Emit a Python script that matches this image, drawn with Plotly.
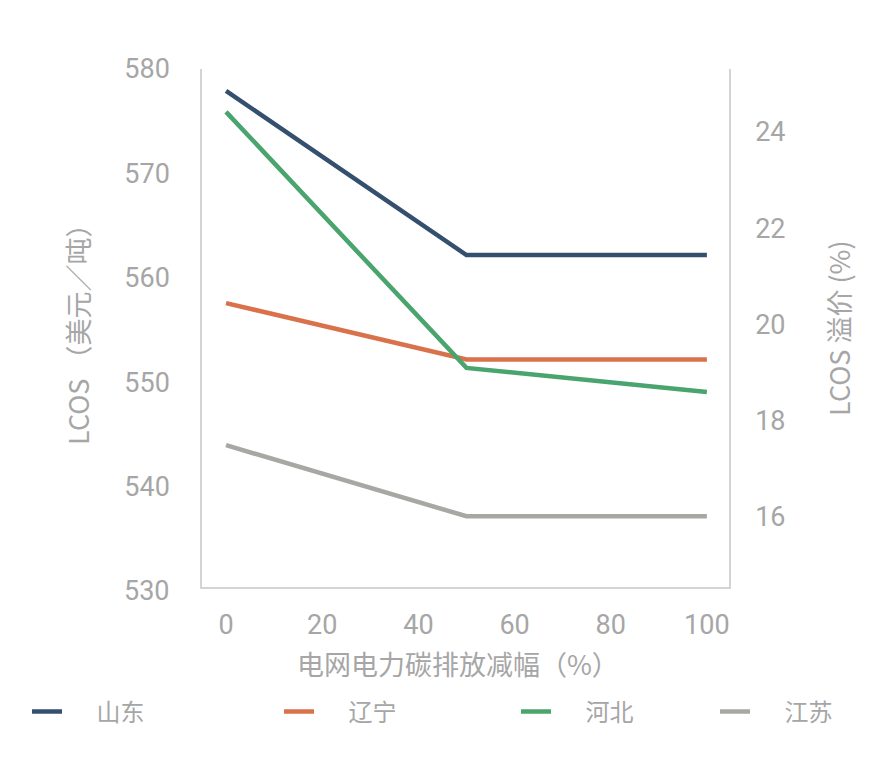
import plotly.graph_objects as go

x_vals = [0, 50, 100]
series_names = ["山东", "辽宁", "河北", "江苏"]
shandong = [577.9, 562.2, 562.2]
liaoning = [557.6, 552.2, 552.2]
hebei = [575.9, 551.4, 549.1]
jiangsu = [544.0, 537.2, 537.2]
colors = ["#34506e", "#d9714a", "#4aa46e", "#a7a7a3"]
x_ticks = [0, 20, 40, 60, 80, 100]
y_ticks = [530, 540, 550, 560, 570, 580]
y2_ticks = [16, 18, 20, 22, 24]

GRAY = "#a6a6a6"
CJK = "Noto Sans CJK SC"
NUM = "Roboto"
OFF = 8  # page body margin

y_max = 580
y_min = y_max - 518 / 10.45  # axis bottom sits a little above the 530 label

fig = go.Figure()
legend_ids = ["legend", "legend2", "legend3", "legend4"]
for name, vals, col, lg in zip(series_names, [shandong, liaoning, hebei, jiangsu], colors, legend_ids):
    fig.add_trace(go.Scatter(x=x_vals, y=vals, mode="lines", name="\u3000 " + name,
                             line=dict(color=col, width=4.5), legend=lg))

fig.add_trace(go.Scatter(x=[None], y=[None], yaxis="y2", showlegend=False,
                         hoverinfo="skip", mode="lines"))

leg_x = [27, 279, 516, 715]
leg_common = dict(orientation="h", xref="container", yref="container",
                  yanchor="middle", y=1 - (712 - OFF) / 768, xanchor="left",
                  font=dict(family=CJK, size=24, color=GRAY), bgcolor="rgba(0,0,0,0)")
legs = {}
for lg, lx in zip(legend_ids, leg_x):
    legs[lg] = dict(x=(lx - OFF) / 896, **leg_common)

tickfont = dict(family=NUM, size=27, color=GRAY)

fig.update_layout(
    width=896, height=768,
    margin=dict(l=202 - OFF, r=167 + OFF, t=69 - OFF, b=181 + OFF),
    paper_bgcolor="white", plot_bgcolor="white",
    xaxis=dict(range=[-5, 104.6], tickvals=x_ticks, showgrid=False, zeroline=False,
               showline=True, linecolor="#d4d4d4", linewidth=1.5, ticks="",
               tickfont=tickfont, ticklabelstandoff=13),
    yaxis=dict(range=[y_min, y_max], tickvals=y_ticks, showgrid=False, zeroline=False,
               showline=True, linecolor="#d4d4d4", linewidth=1.5, ticks="",
               tickfont=tickfont, ticklabelstandoff=25),
    yaxis2=dict(range=[14.54, 25.31], tickvals=y2_ticks, overlaying="y", side="right",
                showgrid=False, zeroline=False, showline=True, linecolor="#d4d4d4",
                linewidth=1.5, ticks="",
                tickfont=tickfont, ticklabelstandoff=19),
    **legs,
    annotations=[
        dict(text=str(y_ticks[0]), xref="paper", yref="paper", x=0,
             y=(y_ticks[0] - y_min) / (y_max - y_min),
             xanchor="right", yanchor="middle", xshift=-30, showarrow=False,
             font=tickfont),
        dict(text="LCOS （美元／吨）", xref="paper", yref="paper", x=-(202 - 77) / 527, y=0.5,
             textangle=-90, showarrow=False, font=dict(family=CJK, size=27, color=GRAY),
             xanchor="center", yanchor="middle"),
        dict(text="LCOS 溢价 (%)", xref="paper", yref="paper", x=1 + (838 - 729) / 527, y=0.5,
             textangle=-90, showarrow=False, font=dict(family=CJK, size=27, color=GRAY),
             xanchor="center", yanchor="middle"),
        dict(text="电网电力碳排放减幅（%）", xref="paper", yref="paper", x=(458 - 202) / 527,
             y=-(663 - 587) / 518, showarrow=False,
             font=dict(family=CJK, size=27, color=GRAY), xanchor="center", yanchor="middle"),
    ],
)

fig.write_html("out.html")
